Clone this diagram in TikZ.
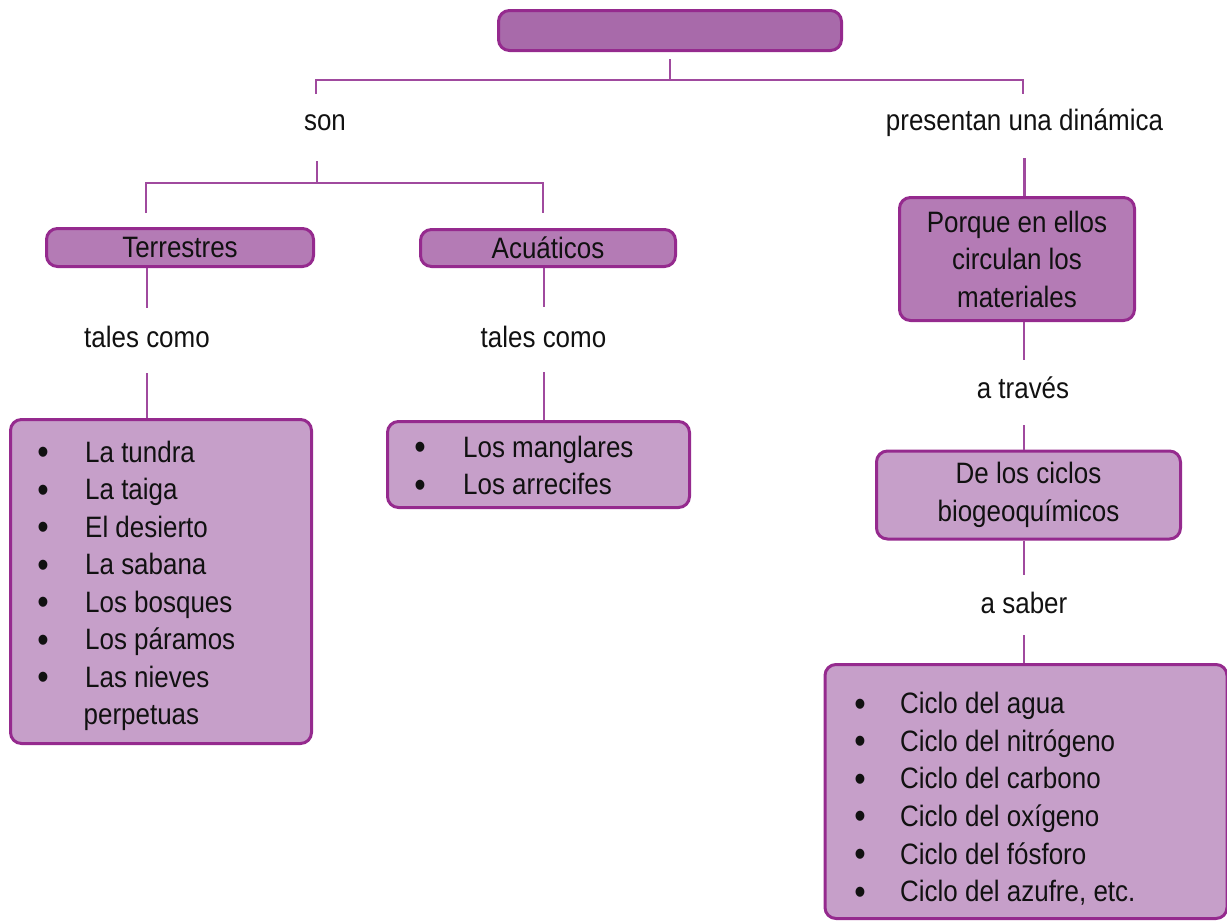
\documentclass[tikz,border=0pt]{standalone}
\usepackage{fontspec}
\setmainfont[FakeStretch=0.88]{Liberation Sans}
\definecolor{bord}{HTML}{952A8E}
\definecolor{conncol}{HTML}{A04A9E}
\definecolor{topfill}{HTML}{A86AAA}
\definecolor{midfill}{HTML}{B47BB5}
\definecolor{lightfill}{HTML}{C69FC9}
\definecolor{ink}{HTML}{111111}
\tikzset{
  box/.style={draw=bord, line width=3pt, rounded corners=11pt, inner sep=0pt, text=ink,
    font=\fontsize{29.5}{37.5}\selectfont, align=center},
  conn/.style={draw=conncol, line width=2.3pt},
  lbl/.style={inner sep=0pt, anchor=base, text=ink, font=\fontsize{29.5}{37.5}\selectfont},
  item/.style={inner sep=0pt, anchor=base west, text=ink, font=\fontsize{29.5}{37.5}\selectfont},
  bul/.style={inner sep=0pt, anchor=base, text=ink, yshift=-2.5pt, font=\fontsize{37}{37.5}\selectfont}
}
\begin{document}
\begin{tikzpicture}[x=1pt,y=-1pt]
\useasboundingbox (0,0) rectangle (1227,922);
% boxes
\node[box, fill=topfill, minimum width=343pt, minimum height=40pt] (top) at (670,30.5) {};
\node[box, fill=midfill, minimum width=267pt, minimum height=38pt] (terr) at (180,247.5) {Terrestres};
\node[box, fill=midfill, minimum width=255pt, minimum height=37pt] (acu) at (548,248) {Acuáticos};
\node[box, fill=lightfill, minimum width=301pt, minimum height=324pt] (terrlist) at (161,581.5) {};
\node[box, fill=lightfill, minimum width=302pt, minimum height=86pt] (aculist) at (538.5,464.5) {};
\node[box, fill=midfill, minimum width=235pt, minimum height=123pt] (porque) at (1017,259) {Porque en ellos\\circulan los\\materiales};
\node[box, fill=lightfill, minimum width=304pt, minimum height=88pt] (delos) at (1028.5,495) {De los ciclos\\biogeoquímicos};
\node[box, fill=lightfill, minimum width=402pt, minimum height=254pt] (ciclos) at (1026,791.5) {};
% labels
\node[lbl] (son) at (325,130) {son};
\node[lbl] (pres) at (1024.5,130) {presentan una dinámica};
\node[lbl] (tc1) at (147,347) {tales como};
\node[lbl] (tc2) at (543.5,347) {tales como};
\node[lbl] (atr) at (1023,398) {a través};
\node[lbl] (asab) at (1024,613) {a saber};
% list items
\foreach \txt [count=\i] in {La tundra, La taiga, El desierto, La sabana, Los bosques, Los páramos, Las nieves} {
  \node[bul] (tb\i) at (43,424.5+37.5*\i) {•};
  \node[item] (tl\i) at (85,424.5+37.5*\i) {\txt};
}
\node[item] (tl8) at (83.5,724.5) {perpetuas};
\foreach \txt [count=\i] in {Los manglares, Los arrecifes} {
  \node[bul] (ab\i) at (420,419.5+37.5*\i) {•};
  \node[item] (al\i) at (463,419.5+37.5*\i) {\txt};
}
\foreach \txt [count=\i] in {Ciclo del agua, Ciclo del nitrógeno, Ciclo del carbono, Ciclo del oxígeno, Ciclo del fósforo, {Ciclo del azufre, etc.}} {
  \node[bul] (cb\i) at (860,676+37.6*\i) {•};
  \node[item] (cl\i) at (900,676+37.6*\i) {\txt};
}
% connector coordinates
\coordinate (c0) at (670,59);
\coordinate (c0b) at (670,80);
\coordinate (hL) at (316,80);
\coordinate (hR) at (1023,80);
\coordinate (sonT) at (316,94);
\coordinate (preT) at (1023,94);
\coordinate (sonB) at (317,161);
\coordinate (sonH) at (317,183);
\coordinate (sL) at (146,183);
\coordinate (sR) at (543,183);
\coordinate (sLd) at (146,213);
\coordinate (sRd) at (543,213);
\coordinate (tA) at (147,308);
\coordinate (tB) at (147,373);
\coordinate (aA) at (544,307);
\coordinate (aB) at (544,372);
\coordinate (pA) at (1024.5,158);
\coordinate (qA) at (1024,360);
\coordinate (qB) at (1024,425);
\coordinate (dA) at (1024,575);
\coordinate (dB) at (1024,635);
% connectors
\draw[conn] (c0) -- (c0b);
\draw[conn] (sonT) -- (hL) -- (hR) -- (preT);
\draw[conn] (sonB) -- (sonH);
\draw[conn] (sLd) -- (sL) -- (sR) -- (sRd);
\draw[conn] (tA |- terr.south) -- (tA);
\draw[conn] (tB) -- (tB |- terrlist.north);
\draw[conn] (aA |- acu.south) -- (aA);
\draw[conn] (aB) -- (aB |- aculist.north);
\draw[conn] (pA) -- (pA |- porque.north);
\draw[conn] (qA |- porque.south) -- (qA);
\draw[conn] (qB) -- (qB |- delos.north);
\draw[conn] (dA |- delos.south) -- (dA);
\draw[conn] (dB) -- (dB |- ciclos.north);
\end{tikzpicture}
\end{document}
